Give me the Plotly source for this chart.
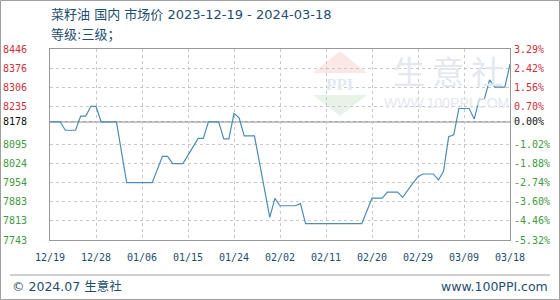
import plotly.graph_objects as go

# ---- data ----
dates = ["2023-12-19", "2023-12-21", "2023-12-22", "2023-12-24", "2023-12-25", "2023-12-26",
         "2023-12-27", "2023-12-28", "2023-12-29", "2024-01-01", "2024-01-03", "2024-01-08",
         "2024-01-10", "2024-01-11", "2024-01-12", "2024-01-14", "2024-01-17", "2024-01-18",
         "2024-01-19", "2024-01-21", "2024-01-22", "2024-01-23", "2024-01-24", "2024-01-25",
         "2024-01-26", "2024-01-28", "2024-01-31", "2024-02-01", "2024-02-02", "2024-02-05",
         "2024-02-06", "2024-02-07", "2024-02-18", "2024-02-20", "2024-02-22", "2024-02-23",
         "2024-02-25", "2024-02-26", "2024-02-28", "2024-02-29", "2024-03-01", "2024-03-03",
         "2024-03-04", "2024-03-05", "2024-03-06", "2024-03-07", "2024-03-08", "2024-03-10",
         "2024-03-11", "2024-03-12", "2024-03-13", "2024-03-14", "2024-03-15", "2024-03-17",
         "2024-03-18"]
prices = [8178, 8178, 8147, 8147, 8199, 8199,
          8235, 8235, 8178, 8178, 7954, 7954,
          8051, 8051, 8024, 8024, 8117, 8117,
          8178, 8178, 8115, 8115, 8209, 8193,
          8126, 8126, 7826, 7896, 7869, 7869,
          7877, 7803, 7803, 7897, 7897, 7919,
          7919, 7900, 7952, 7976, 7986, 7986,
          7964, 7996, 8123, 8130, 8227, 8227,
          8188, 8262, 8262, 8332, 8306, 8306,
          8390]

y_ticks = [8446, 8376, 8306, 8235, 8178, 8095, 8024, 7954, 7883, 7813, 7743]
pct_labels = ["3.29%", "2.42%", "1.56%", "0.70%", "0.00%", "-1.02%", "-1.88%",
              "-2.74%", "-3.60%", "-4.46%", "-5.32%"]
x_ticks = ["2023-12-19", "2023-12-28", "2024-01-06", "2024-01-15", "2024-01-24",
           "2024-02-02", "2024-02-11", "2024-02-20", "2024-02-29", "2024-03-09", "2024-03-18"]
x_labels = ["12/19", "12/28", "01/06", "01/15", "01/24", "02/02", "02/11",
            "02/20", "02/29", "03/09", "03/18"]
base_price = 8178
title = "菜籽油 国内 市场价 2023-12-19 - 2024-03-18"
subtitle = "等级:三级；"

RED = "#c9303a"
GREEN = "#3f9a3f"
BLACK = "#111111"
TXT = "#1e4e6e"


def col(v):
    if v > base_price:
        return RED
    if v < base_price:
        return GREEN
    return BLACK


left_text = [f'<span style="color:{col(v)}">{v}</span>' for v in y_ticks]
right_text = [f'<span style="color:{col(v)}">{t}</span>' for v, t in zip(y_ticks, pct_labels)]

fig = go.Figure()
fig.add_trace(go.Scatter(x=dates, y=prices, mode="lines",
                         line=dict(color="#4a8db5", width=1.2),
                         hoverinfo="skip", showlegend=False))
fig.add_trace(go.Scatter(x=dates, y=prices, mode="lines", yaxis="y2",
                         line=dict(color="rgba(0,0,0,0)", width=0),
                         hoverinfo="skip", showlegend=False))

# plot area: x 50..510, y 49..240
W, H = 560, 300
L, R, T, B = 50, 50, 49, 60
pw, ph = W - L - R, H - T - B


def px(x):
    return (x - L) / pw


def py(y):
    return (H - B - y) / ph


tick_font = dict(family="DejaVu Sans Mono", size=10)
txt_family = "DejaVu Sans, Noto Sans CJK SC"
fig.update_layout(
    width=W, height=H,
    margin=dict(l=L, r=R, t=T, b=B, autoexpand=False),
    paper_bgcolor="white", plot_bgcolor="white",
    showlegend=False,
    xaxis=dict(type="date", range=["2023-12-19", "2024-03-18"],
               tickvals=x_ticks, ticktext=x_labels, automargin=False,
               tickfont=dict(color=TXT, **tick_font),
               showgrid=True, gridcolor="#c8c8c8", griddash="dot", gridwidth=1,
               showline=True, linecolor="#999999", mirror=True, linewidth=1,
               zeroline=False, ticks="", ticklabelstandoff=8, fixedrange=True),
    yaxis=dict(range=[7743, 8446], tickvals=y_ticks, ticktext=left_text,
               tickfont=tick_font, automargin=False,
               showgrid=True, gridcolor="#c8c8c8", griddash="dot", gridwidth=1,
               showline=True, linecolor="#999999", mirror=True, linewidth=1,
               zeroline=False, ticks="", ticklabelstandoff=20, fixedrange=True),
    yaxis2=dict(range=[7743, 8446], tickvals=y_ticks, ticktext=right_text,
                tickfont=tick_font, overlaying="y", side="right", automargin=False,
                showgrid=False, showline=False, zeroline=False, ticks="",
                ticklabelstandoff=3, fixedrange=True),
)

# base price line
fig.add_shape(type="line", xref="paper", yref="y", x0=0, x1=1, y0=base_price, y1=base_price,
              line=dict(color="#8a8a8a", width=1.2), layer="below")

# watermark logo
fig.add_shape(type="path", xref="paper", yref="paper", layer="below",
              path=f"M {px(313)} {py(73)} L {px(340)} {py(51)} L {px(367)} {py(73)} Z",
              fillcolor="rgba(235,120,110,0.18)", line=dict(width=0))
fig.add_shape(type="path", xref="paper", yref="paper", layer="below",
              path=f"M {px(313)} {py(95)} L {px(340)} {py(116)} L {px(367)} {py(95)} Z",
              fillcolor="rgba(120,190,120,0.18)", line=dict(width=0))
fig.add_annotation(text="<b>PPI</b>", xref="paper", yref="paper", x=px(340), y=py(84),
                   xanchor="center", yanchor="middle", showarrow=False,
                   font=dict(family="Liberation Serif", size=17, color="#e2e8f2"))
fig.add_annotation(text="生 意 社", xref="paper", yref="paper", x=px(448), y=py(70),
                   xanchor="center", yanchor="middle", showarrow=False,
                   font=dict(family="Noto Sans CJK SC", size=32, color="#e4e8ee"))
fig.add_annotation(text="WWW.100PPI.COM", xref="paper", yref="paper", x=px(446), y=py(103),
                   xanchor="center", yanchor="middle", showarrow=False,
                   font=dict(family="Liberation Sans", size=14, color="#e4e8ee"))

# titles
fig.add_annotation(text=title, xref="paper", yref="paper", x=px(49), y=py(15),
                   xanchor="left", yanchor="middle", showarrow=False,
                   font=dict(family=txt_family, size=13, color=TXT))
fig.add_annotation(text=subtitle, xref="paper", yref="paper", x=px(49), y=py(35),
                   xanchor="left", yanchor="middle", showarrow=False,
                   font=dict(family=txt_family, size=13, color=TXT))

# footer
fig.add_shape(type="line", xref="paper", yref="paper", x0=px(10), x1=px(550),
              y0=py(275), y1=py(275), line=dict(color="#a0a0a0", width=1))
fig.add_annotation(text="© 2024.07 生意社", xref="paper", yref="paper", x=px(10), y=py(286),
                   xanchor="left", yanchor="middle", showarrow=False,
                   font=dict(family=txt_family, size=12.5, color=TXT))
fig.add_annotation(text="www.100PPI.com", xref="paper", yref="paper", x=px(550), y=py(286),
                   xanchor="right", yanchor="middle", showarrow=False,
                   font=dict(family=txt_family, size=12.5, color=TXT))

# outer border
fig.add_shape(type="rect", xref="paper", yref="paper", x0=px(0.5), x1=px(559.5),
              y0=py(299.5), y1=py(0.5), line=dict(color="#a0a0a0", width=1))

fig.write_html("out.html", config=dict(displayModeBar=False, staticPlot=True))
